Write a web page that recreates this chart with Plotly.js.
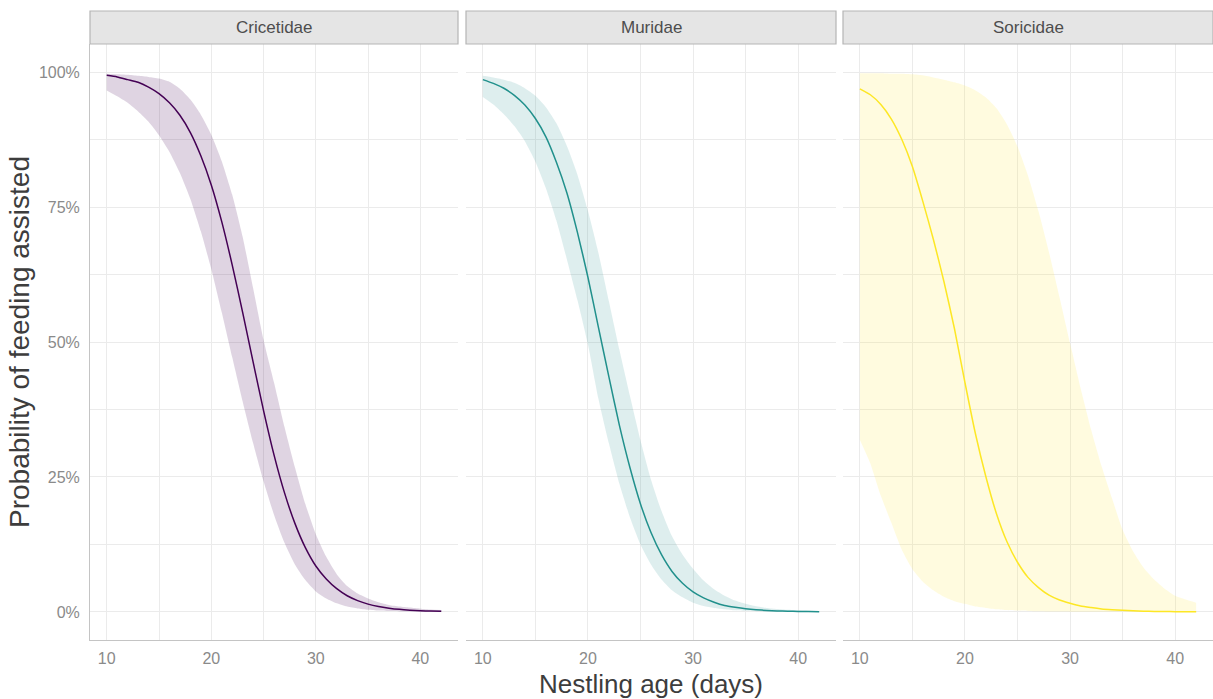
<!DOCTYPE html>
<html>
<head>
<meta charset="utf-8">
<script src="https://cdn.plot.ly/plotly-3.0.1.min.js"></script>
<style>html,body{margin:0;padding:0;background:#fff;}#chart{width:1213px;height:699px;}</style>
</head>
<body>
<div id="chart"></div>
<script>
// ---- data ----
const families = ["Cricetidae", "Muridae", "Soricidae"];
const ages = [10,11,12,13,14,15,16,17,18,19,20,21,22,23,24,25,26,27,28,29,30,31,32,33,34,35,36,37,38,39,40,41,42];

const cricetidaeFit   = [99.4,99.1,98.6,98.1,97.2,96.0,94.3,92.0,88.8,84.5,79.1,72.3,64.3,55.5,46.3,37.3,29.1,22.1,16.4,11.9,8.5,6.1,4.3,3.0,2.1,1.45,1.0,0.7,0.48,0.33,0.23,0.16,0.11];
const cricetidaeLower = [96.6,95.5,94.3,92.7,90.8,88.3,85.2,81.3,76.5,70.5,63.5,55.5,47.2,39.0,31.3,24.2,18.0,12.8,8.8,5.9,3.8,2.5,1.6,1.0,0.65,0.4,0.25,0.15,0.1,0.06,0.04,0.02,0.01];
const cricetidaeUpper = [99.7,99.6,99.5,99.3,99.1,98.8,98.2,96.9,94.9,92.1,88.4,83.5,77.3,69.5,60.0,50.4,42.5,34.3,26.8,20.0,14.4,10.2,7.0,4.8,3.4,2.5,1.8,1.3,1.0,0.8,0.6,0.45,0.35];

const muridaeFit   = [98.6,97.9,97.0,95.7,93.9,91.4,88.0,83.3,77.6,70.3,62.0,52.7,43.5,34.5,26.7,20.0,14.7,10.6,7.5,5.3,3.7,2.6,1.8,1.2,0.85,0.58,0.4,0.28,0.19,0.13,0.09,0.06,0.04];
const muridaeLower = [95.4,94.0,92.2,90.0,87.2,83.4,78.5,72.5,65.3,57.8,49.6,39.5,31.2,23.7,17.5,12.5,8.8,6.0,4.0,2.7,1.7,1.1,0.75,0.5,0.3,0.2,0.13,0.08,0.05,0.03,0.02,0.01,0.01];
const muridaeUpper = [99.3,99.0,98.6,98.0,97.0,95.6,93.5,90.5,86.3,81.0,74.3,66.5,57.5,48.5,40.0,31.8,24.5,18.7,14.0,10.6,8.0,5.8,4.2,3.0,2.1,1.5,1.05,0.75,0.55,0.4,0.3,0.22,0.16];

const soricidaeFit   = [96.9,95.8,94.0,91.3,87.5,82.5,76.0,69.0,61.2,52.5,42.5,33.0,25.0,18.2,13.0,9.2,6.4,4.5,3.1,2.2,1.6,1.1,0.8,0.55,0.4,0.3,0.2,0.14,0.1,0.07,0.05,0.04,0.03];
const soricidaeLower = [31.9,27.5,21.5,16.5,11.5,7.9,5.6,4.0,2.8,2.0,1.5,1.0,0.75,0.5,0.35,0.25,0.18,0.12,0.08,0.06,0.04,0.03,0.02,0.015,0.01,0.01,0.01,0.01,0.01,0.01,0.01,0.01,0.01];
const soricidaeUpper = [99.8,99.8,99.8,99.7,99.7,99.6,99.4,99.0,98.6,98.1,97.5,96.6,95.3,93.3,90.3,86.2,80.8,74.2,66.6,58.3,49.8,41.5,33.8,27.0,21.0,15.2,11.2,8.2,6.0,4.3,3.0,2.3,1.7];

const xTicks = [10, 20, 30, 40];
const yTicks = [0, 25, 50, 75, 100];
const yTickLabels = ["0%", "25%", "50%", "75%", "100%"];

// ---- styles ----
const lineColors = ["#440154", "#21908C", "#FDE725"];
const ribbonColors = ["rgba(68,1,84,0.17)", "rgba(33,144,140,0.15)", "rgba(253,231,37,0.15)"];
const series = [
  {fit: cricetidaeFit, lo: cricetidaeLower, hi: cricetidaeUpper},
  {fit: muridaeFit, lo: muridaeLower, hi: muridaeUpper},
  {fit: soricidaeFit, lo: soricidaeLower, hi: soricidaeUpper}
];

const W = 1123; // plot width in px (1213 - left margin 90)
const domains = [[0, 368 / W], [376 / W, 746 / W], [753 / W, 1]];
const stripTop = 1 + 33 / 596;
const FONT = "Liberation Sans, Arial, sans-serif";

const traces = [];
series.forEach((s, i) => {
  const xa = i === 0 ? "x" : "x" + (i + 1);
  const ya = i === 0 ? "y" : "y" + (i + 1);
  traces.push({x: ages, y: s.lo, xaxis: xa, yaxis: ya, mode: "lines", line: {width: 0, color: ribbonColors[i], shape: "spline", smoothing: 0.6}, showlegend: false, hoverinfo: "skip"});
  traces.push({x: ages, y: s.hi, xaxis: xa, yaxis: ya, mode: "lines", line: {width: 0, color: ribbonColors[i], shape: "spline", smoothing: 0.6}, fill: "tonexty", fillcolor: ribbonColors[i], showlegend: false, hoverinfo: "skip"});
  traces.push({x: ages, y: s.fit, xaxis: xa, yaxis: ya, mode: "lines", line: {width: 1.5, color: lineColors[i], shape: "spline", smoothing: 0.6}, showlegend: false, name: families[i]});
});

const gridCol = "#ebebeb";
const tickFont = {family: FONT, size: 16, color: "#8a8a8a"};
function xAxis(i) {
  const ax = {
    domain: domains[i], anchor: i === 0 ? "y" : "y" + (i + 1),
    range: [8.4, 43.6], tickvals: xTicks, ticktext: xTicks.map(String),
    showgrid: true, gridcolor: gridCol, gridwidth: 1,
    minor: {tickvals: [15, 25, 35], showgrid: true, gridcolor: gridCol, gridwidth: 1, ticks: ""},
    zeroline: false, showline: true, linecolor: "#c4c4c4", linewidth: 1,
    ticks: "outside", ticklen: 4, tickcolor: "rgba(0,0,0,0)",
    tickfont: tickFont, fixedrange: true
  };
  if (i === 1) {
    ax.title = {text: "Nestling age (days)", font: {family: FONT, size: 26, color: "#3d3d3d"}, standoff: 8};
  }
  return ax;
}
function yAxis(i) {
  const ax = {
    domain: [0, 1], anchor: i === 0 ? "x" : "x" + (i + 1),
    range: [-5.2, 105.2], tickvals: yTicks, ticktext: yTickLabels,
    showgrid: true, gridcolor: gridCol, gridwidth: 1,
    minor: {tickvals: [12.5, 37.5, 62.5, 87.5], showgrid: true, gridcolor: gridCol, gridwidth: 1, ticks: ""},
    zeroline: false, fixedrange: true,
    ticks: "outside", ticklen: 6, tickcolor: "rgba(0,0,0,0)", tickfont: tickFont
  };
  if (i === 0) {
    ax.showline = true; ax.linecolor = "#c4c4c4"; ax.linewidth = 1;
    ax.title = {text: "Probability of feeding assisted", font: {family: FONT, size: 28, color: "#3d3d3d"}, standoff: 1};
  } else {
    ax.showticklabels = false; ax.showline = false;
    ax.matches = "y";
  }
  return ax;
}

const shapes = [];
const annotations = [];
families.forEach((f, i) => {
  shapes.push({type: "rect", xref: "paper", yref: "paper", x0: domains[i][0], x1: domains[i][1], y0: 1, y1: stripTop,
    fillcolor: "#e5e5e5", line: {color: "#b5b5b5", width: 1.2}, layer: "above"});
  annotations.push({xref: "paper", yref: "paper", x: (domains[i][0] + domains[i][1]) / 2, y: (1 + stripTop) / 2,
    text: f, showarrow: false, xanchor: "center", yanchor: "middle",
    font: {family: FONT, size: 17, color: "#4d4d4d"}});
});

const layout = {
  width: 1213, height: 699,
  margin: {l: 90, r: 0, t: 44, b: 59, pad: 0},
  paper_bgcolor: "#ffffff", plot_bgcolor: "#ffffff",
  showlegend: false,
  xaxis: xAxis(0), xaxis2: xAxis(1), xaxis3: xAxis(2),
  yaxis: yAxis(0), yaxis2: yAxis(1), yaxis3: yAxis(2),
  shapes: shapes, annotations: annotations
};

Plotly.newPlot("chart", traces, layout, {displayModeBar: false, staticPlot: true});
</script>
</body>
</html>
